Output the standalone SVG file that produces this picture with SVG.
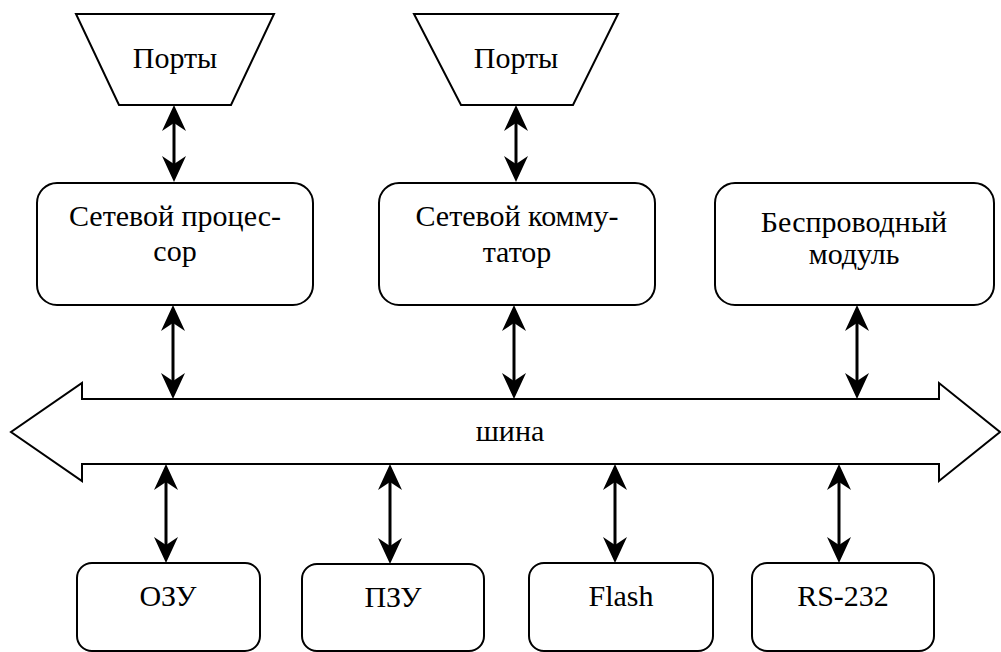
<svg xmlns="http://www.w3.org/2000/svg" width="1001" height="652" viewBox="0 0 1001 652">
<defs>
<marker id="ah" markerUnits="userSpaceOnUse" viewBox="0 -13 26 26" refX="8" refY="0" markerWidth="26" markerHeight="26" orient="auto-start-reverse">
<path d="M0,-12 L26,0 L0,12 L8,0 Z" fill="#000"/>
</marker>
</defs>
<style>
.shape{fill:#fff;stroke:#000;stroke-width:2}
.t{font-family:'Liberation Serif','Times New Roman',Times,Tinos,'Noto Serif','Nimbus Roman','Nimbus Roman No9 L',FreeSerif,'DejaVu Serif',serif;font-size:30px;fill:#000;text-anchor:middle}
.c{fill:none;stroke:#000;stroke-width:3;marker-start:url(#ah);marker-end:url(#ah)}
</style>
<rect width="1001" height="652" fill="#fff"/>
<g id="bus">
<polygon class="shape" points="82,399 82,383 11,432 82,481 82,464 939,464 939,481 1000,432 939,383 939,399"/>
<text class="t" x="510" y="441">шина</text>
</g>
<g id="ports1">
<polygon class="shape" points="76,14 274,14 231,105 119,105"/>
<text class="t" x="175" y="68">Порты</text>
</g>
<g id="ports2">
<polygon class="shape" points="414,14 618,14 573,105 461,105"/>
<text class="t" x="516" y="68">Порты</text>
</g>
<g id="netproc">
<rect class="shape" x="37" y="183" width="276" height="122" rx="20"/>
<text class="t" x="175" y="226">Сетевой процес-</text>
<text class="t" x="175" y="261">сор</text>
</g>
<g id="netswitch">
<rect class="shape" x="379" y="183" width="276" height="122" rx="20"/>
<text class="t" x="517" y="226">Сетевой комму-</text>
<text class="t" x="517" y="262">татор</text>
</g>
<g id="wireless">
<rect class="shape" x="715" y="183" width="279" height="122" rx="20"/>
<text class="t" x="854" y="232">Беспроводный</text>
<text class="t" x="854" y="264">модуль</text>
</g>
<g id="ram">
<rect class="shape" x="77" y="563" width="183" height="88" rx="15"/>
<text class="t" x="168" y="606">ОЗУ</text>
</g>
<g id="rom">
<rect class="shape" x="302" y="564" width="182" height="87" rx="15"/>
<text class="t" x="393" y="607">ПЗУ</text>
</g>
<g id="flash">
<rect class="shape" x="529" y="563" width="184" height="88" rx="15"/>
<text class="t" x="621" y="606">Flash</text>
</g>
<g id="rs232">
<rect class="shape" x="752" y="563" width="182" height="88" rx="15"/>
<text class="t" x="843" y="606">RS-232</text>
</g>
<g id="connectors">
<path class="c" d="M174,123 L174,164"/>
<path class="c" d="M516,123 L516,164"/>
<path class="c" d="M173,323 L173,381"/>
<path class="c" d="M514,323 L514,381"/>
<path class="c" d="M857,323 L857,381"/>
<path class="c" d="M166,482 L166,545"/>
<path class="c" d="M390,482 L390,546"/>
<path class="c" d="M615,482 L615,545"/>
<path class="c" d="M839,482 L839,545"/>
</g>
</svg>
